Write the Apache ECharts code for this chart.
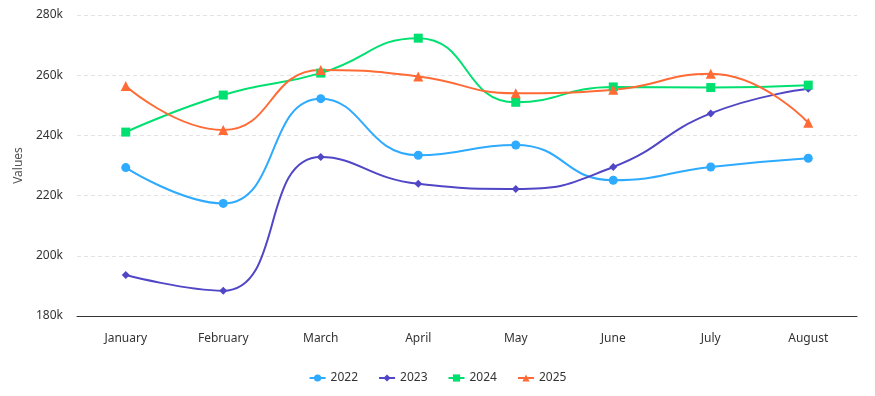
<!DOCTYPE html>
<html><head><meta charset="utf-8">
<script src="https://cdn.jsdelivr.net/npm/echarts@6/dist/echarts.min.js"></script>
<style>html,body{margin:0;padding:0;background:#fff}#c{width:875px;height:396px}</style>
</head><body><div id="c"></div>
<script>
const categories = ['January','February','March','April','May','June','July','August'];
const s2022 = [229300, 217400, 252200, 233400, 236800, 225100, 229500, 232400];
const s2023 = [193600, 188400, 232800, 223900, 222200, 229500, 247300, 255500];
const s2024 = [241100, 253400, 260700, 272300, 251000, 256100, 255900, 256700];
const s2025 = [256400, 241800, 261700, 259600, 254000, 255200, 260500, 244200];
const seriesNames = ['2022','2023','2024','2025'];
const yTicks = {min:180000, max:280000, interval:20000};

const colors = ['#2eaaff','#5046c6','#00e070','#ff6a35'];
const symbols = ['circle','diamond','rect','triangle'];
const sizes = [9,8,9,10];
const data = [s2022,s2023,s2024,s2025];
const FONT = 'Noto Sans';

const chart = echarts.init(document.getElementById('c'));
chart.setOption({
  animation:false,
  textStyle:{fontFamily:FONT},
  grid:{left:77, right:18, top:15, bottom:80, containLabel:false},
  legend:{
    bottom:7, left:'center', itemGap:20, itemWidth:16, itemHeight:9,
    textStyle:{fontFamily:FONT,fontSize:12,color:'#333'},
    data:seriesNames
  },
  xAxis:{
    type:'category', data:categories, boundaryGap:true,
    axisLine:{lineStyle:{color:'#333',width:1.2}},
    axisTick:{show:false},
    axisLabel:{color:'#333',fontSize:12,margin:17,fontFamily:FONT}
  },
  yAxis:{
    type:'value', min:yTicks.min, max:yTicks.max, interval:yTicks.interval,
    name:'Values', nameLocation:'middle', nameGap:52, nameRotate:90,
    nameTextStyle:{color:'#555',fontSize:12,fontFamily:FONT},
    axisLine:{show:false}, axisTick:{show:false},
    axisLabel:{color:'#333',fontSize:12,margin:14,fontFamily:FONT,
      formatter:v=>(v/1000)+'k'},
    splitLine:{lineStyle:{color:'#e3e3e3',type:[4,3]}}
  },
  series: seriesNames.map((n,i)=>({
    name:n, type:'line', smooth:true, data:data[i],
    symbol:symbols[i], symbolSize:sizes[i],
    itemStyle:{color:colors[i]},
    lineStyle:{color:colors[i],width:2}
  }))
});
</script></body></html>
